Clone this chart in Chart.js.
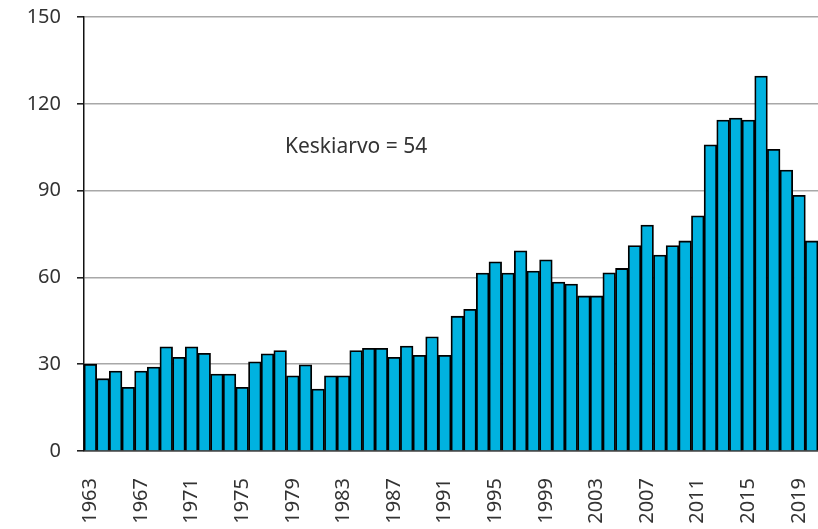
<!DOCTYPE html>
<html>
<head>
<meta charset="utf-8">
<script src="https://cdn.jsdelivr.net/npm/chart.js@4"></script>
<style>
  html, body { margin: 0; padding: 0; background: #fff; }
  #wrap { width: 818px; height: 529px; }
</style>
</head>
<body>
<div id="wrap"><canvas id="c"></canvas></div>
<script>
// vuodet 1963-2020
const years = ["1963","1964","1965","1966","1967","1968","1969","1970","1971","1972",
  "1973","1974","1975","1976","1977","1978","1979","1980","1981","1982",
  "1983","1984","1985","1986","1987","1988","1989","1990","1991","1992",
  "1993","1994","1995","1996","1997","1998","1999","2000","2001","2002",
  "2003","2004","2005","2006","2007","2008","2009","2010","2011","2012",
  "2013","2014","2015","2016","2017","2018","2019","2020"]

const values = [30, 25, 27.6, 22, 27.6, 29, 36, 32.4, 36, 33.8,
  26.6, 26.6, 22, 30.8, 33.6, 34.7, 26, 29.8, 21.4, 26,
  26, 34.7, 35.5, 35.5, 32.4, 36.3, 33.1, 39.5, 33.1, 46.6,
  49, 61.5, 65.4, 61.5, 69.2, 62.2, 66.1, 58.4, 57.7, 53.6,
  53.6, 61.6, 63.1, 71, 78.1, 67.7, 71, 72.6, 81.3, 105.8,
  114.4, 115.1, 114.4, 129.6, 104.3, 97.1, 88.4, 72.6]

const yTicks = [0, 30, 60, 90, 120, 150]
const meanText = "Keskiarvo = 54"

const fontFamily = "'Noto Sans', sans-serif"

// teksti keskiarvosta
const meanLabel = {
    id: "meanLabel",
    afterDraw(chart) {
        const { ctx, scales } = chart
        const x = (scales.x.getPixelForValue(16) + scales.x.getPixelForValue(26)) / 2
        const y = scales.y.getPixelForValue(105)
        ctx.save()
        ctx.font = "21px " + fontFamily
        ctx.fillStyle = "#333"
        ctx.textAlign = "center"
        ctx.textBaseline = "middle"
        ctx.fillText(meanText, x, y)
        ctx.restore()
    }
}

new Chart(document.getElementById("c").getContext("2d"), {
    type: "bar",
    data: {
        labels: years,
        datasets: [{
            data: values,
            backgroundColor: "#00b2e0",
            borderColor: "#000",
            borderWidth: 1.8,
            barPercentage: 1,
            categoryPercentage: 1
        }]
    },
    options: {
        responsive: true,
        maintainAspectRatio: false,
        animation: false,
        layout: { padding: { top: 17, right: 0, left: 0, bottom: 0 } },
        plugins: {
            legend: { display: false },
            tooltip: { enabled: false }
        },
        scales: {
            x: {
                grid: { display: false, drawTicks: false },
                border: { display: true, color: "#444", width: 1.5 },
                ticks: {
                    autoSkip: false,
                    maxRotation: 90,
                    minRotation: 90,
                    padding: 27,
                    color: "#333",
                    font: { family: fontFamily, size: 20 },
                    callback: (v, i) => (i % 4 === 0 ? years[i] : "")
                },
                afterFit: (s) => { s.height = 78; s.paddingLeft = 0; s.paddingRight = 0 }
            },
            y: {
                min: 0,
                max: 150,
                afterBuildTicks: (s) => { s.ticks = yTicks.map(v => ({ value: v })) },
                grid: {
                    color: (c) => (c.tick && c.tick.value === 0 ? "#444" : "#a8a8a8"),
                    lineWidth: 1.6,
                    tickColor: "#222",
                    tickLength: 7
                },
                border: { color: "#111", width: 1.5 },
                ticks: {
                    padding: 16,
                    color: "#333",
                    font: { family: fontFamily, size: 20 }
                },
                afterFit: (s) => { s.width = 84; s.paddingTop = 0; s.paddingBottom = 0 }
            }
        }
    },
    plugins: [meanLabel]
})
</script>
</body>
</html>
